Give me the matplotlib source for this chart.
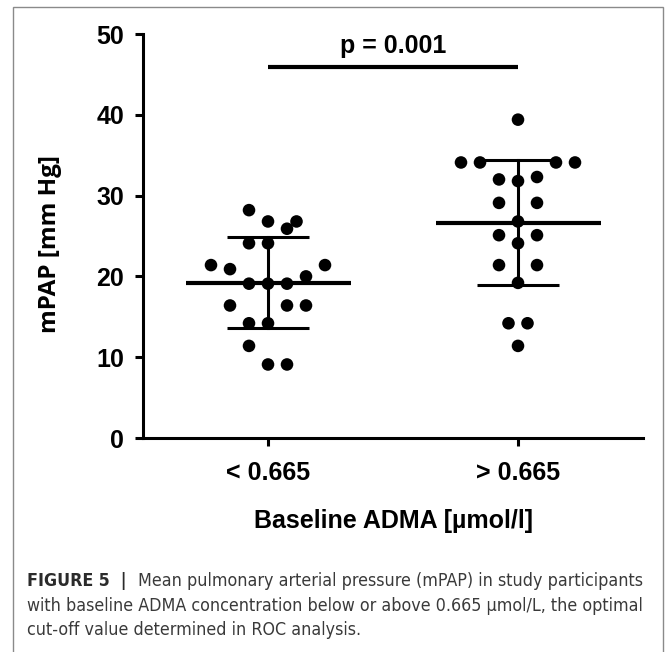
import matplotlib
matplotlib.use('Agg')
import matplotlib.pyplot as plt
from matplotlib.patches import Rectangle
from matplotlib import font_manager
import numpy as np

# values
groups = ['< 0.665', '> 0.665']
low_mpap = [28.2, 26.8, 26.8, 25.9, 24.1, 24.1, 21.4, 20.9, 21.4, 20.0, 19.1, 19.1, 19.1,
            16.4, 16.4, 16.4, 14.2, 14.2, 11.4, 9.1, 9.1]
high_mpap = [39.4, 34.1, 34.1, 34.1, 34.1, 32.0, 31.8, 32.3, 29.1, 29.1, 26.8, 25.1, 25.1,
             24.1, 21.4, 21.4, 19.2, 14.2, 14.2, 11.4]
# horizontal scatter slot of each dot (in dot widths), as in the picture
low_spread = [-1, 0, 1.5, 1, -1, 0, -3, -2, 3, 2, -1, 0, 1, -2, 1, 2, -1, 0, -1, 0, 1]
high_spread = [0, -3, -2, 2, 3, -1, 0, 1, -1, 1, 0, -1, 1, 0, -1, 1, 0, -0.5, 0.5, 0]
p_label = 'p = 0.001'
y_ticks = [0, 10, 20, 30, 40, 50]

caption_bold = 'FIGURE 5'
caption_lines = ['Mean pulmonary arterial pressure (mPAP) in study participants',
                 'with baseline ADMA concentration below or above 0.665 µmol/L, the optimal',
                 'cut-off value determined in ROC analysis.']

W, H = 668, 652
fig = plt.figure(figsize=(W / 100, H / 100), dpi=100)
ax = fig.add_axes([143 / W, 1 - 438 / H, 500 / W, 404 / H])

arial = 'Liberation Sans'
step = 0.076
for i, (vals, spread) in enumerate([(low_mpap, low_spread), (high_mpap, high_spread)]):
    vals = np.array(vals)
    xs = i + np.array(spread) * step
    m, sd = vals.mean(), vals.std(ddof=1)
    ax.plot([i - 0.33, i + 0.33], [m, m], color='black', lw=3, solid_capstyle='butt', zorder=2)
    ax.plot([i, i], [m - sd, m + sd], color='black', lw=2.2, zorder=2)
    for yy in (m - sd, m + sd):
        ax.plot([i - 0.165, i + 0.165], [yy, yy], color='black', lw=2.2,
                solid_capstyle='butt', zorder=2)
    ax.scatter(xs, vals, s=82, color='black', edgecolors='none', zorder=3)

# significance bar
ax.plot([0, 1], [45.9, 45.9], color='black', lw=3, solid_capstyle='butt', clip_on=False)
ax.text(0.5, 48.5, p_label, ha='center', va='center', fontsize=18, fontweight='bold',
        family=arial)

ax.set_xlim(-0.5, 1.5)
ax.set_ylim(0, 50)
ax.set_xticks([0, 1])
ax.set_xticklabels(groups)
ax.set_yticks(y_ticks)
for side in ('top', 'right'):
    ax.spines[side].set_visible(False)
for side in ('left', 'bottom'):
    ax.spines[side].set_linewidth(2.2)
ax.tick_params(axis='both', width=2.2, length=5.5, labelsize=18)
ax.tick_params(axis='y', pad=8)
ax.tick_params(axis='x', pad=11)
for lab in ax.get_xticklabels() + ax.get_yticklabels():
    lab.set_fontweight('bold')
    lab.set_family(arial)

ax.set_xlabel('Baseline ADMA [µmol/l]', fontsize=18, fontweight='bold', family=arial)
ax.xaxis.set_label_coords(0.5, -0.176)
ax.set_ylabel('mPAP [mm Hg]', fontsize=17.5, fontweight='bold', family='Open Sans')
ax.yaxis.set_label_coords(-0.162, 0.479)

# frame around figure and caption
fig.patches.append(Rectangle((13 / W, -0.05), 650 / W, (H - 7) / H + 0.05, transform=fig.transFigure,
                             fill=False, edgecolor='#8a8a8a', lw=1))

# caption: pick a narrow face if there is one, then fit the longest line
cap_font = 'Liberation Sans'
cap_stretch = 'normal'
for name, stretch in [('Liberation Sans Narrow', 'normal'), ('DejaVu Sans', 'condensed')]:
    try:
        fp = font_manager.FontProperties(family=name, stretch=stretch)
        path = font_manager.findfont(fp, fallback_to_default=False)
        if stretch == 'normal' or 'ondensed' in path:
            cap_font, cap_stretch = name, stretch
            break
    except Exception:
        pass

x0 = 27 / W
line_y = [581, 606, 630]
renderer = fig.canvas.get_renderer()
probe = fig.text(x0, 0.5, caption_lines[1], fontsize=15, family=cap_font, stretch=cap_stretch)
cap_size = 15 * 617 / probe.get_window_extent(renderer).width
probe.remove()

t = fig.text(x0, 1 - line_y[0] / H, caption_bold + '  |  ', fontsize=cap_size, fontweight='bold',
             family=cap_font, stretch=cap_stretch, color='#2b2b2b', va='center')
bb = t.get_window_extent(renderer)
fig.text(bb.x1 / W, 1 - line_y[0] / H, caption_lines[0], fontsize=cap_size, family=cap_font,
         stretch=cap_stretch, color='#3a3a3a', va='center')
for yy, line in zip(line_y[1:], caption_lines[1:]):
    fig.text(x0, 1 - yy / H, line, fontsize=cap_size, family=cap_font, stretch=cap_stretch,
             color='#3a3a3a', va='center')

fig.savefig('out.png', dpi=100)
